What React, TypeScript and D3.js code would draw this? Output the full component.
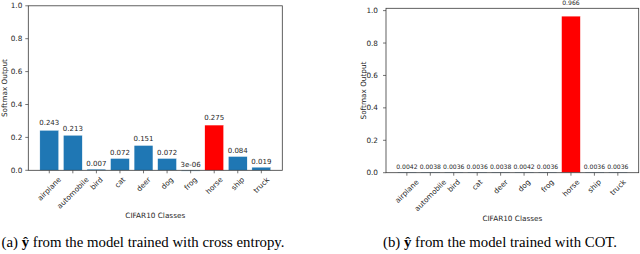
import React, { useEffect, useRef } from "react";
import * as d3 from "d3";

// CIFAR10 classes and softmax outputs
const classes = [
  "airplane",
  "automobile",
  "bird",
  "cat",
  "deer",
  "dog",
  "frog",
  "horse",
  "ship",
  "truck",
];
const crossEntropyValues = [0.243, 0.213, 0.007, 0.072, 0.151, 0.072, 3e-6, 0.275, 0.084, 0.019];
const crossEntropyLabels = ["0.243", "0.213", "0.007", "0.072", "0.151", "0.072", "3e-06", "0.275", "0.084", "0.019"];
const cotValues = [0.0042, 0.0038, 0.0036, 0.0036, 0.0038, 0.0042, 0.0036, 0.966, 0.0036, 0.0036];
const cotLabels = ["0.0042", "0.0038", "0.0036", "0.0036", "0.0038", "0.0042", "0.0036", "0.966", "0.0036", "0.0036"];
const yTicks = [0, 0.2, 0.4, 0.6, 0.8, 1.0];
const trueClass = "horse";

interface PanelSpec {
  left: number;
  right: number;
  top: number;
  bottom: number;
  yMax: number;
  values: number[];
  labels: string[];
  labelSize: number;
  ylabelX: number;
  tickPad: number;
  caption: string;
  captionTag: string;
  captionX: number;
}

const panels: PanelSpec[] = [
  {
    left: 28.3,
    right: 282.3,
    top: 5.8,
    bottom: 170.3,
    yMax: 1.0,
    values: crossEntropyValues,
    labels: crossEntropyLabels,
    labelSize: 7,
    ylabelX: 7.5,
    tickPad: 6,
    caption: " from the model trained with cross entropy.",
    captionTag: "(a) ",
    captionX: 143,
  },
  {
    left: 386,
    right: 638.7,
    top: 8.3,
    bottom: 172.7,
    yMax: 1.0143,
    values: cotValues,
    labels: cotLabels,
    labelSize: 6.1,
    ylabelX: 366,
    tickPad: 8,
    caption: " from the model trained with COT.",
    captionTag: "(b) ",
    captionX: 500,
  },
];

const FONT = "DejaVu Sans";
const TEXT = "#262626";

export default function App() {
  const svgRef = useRef<SVGSVGElement>(null);

  useEffect(() => {
    const root = d3.select(svgRef.current);
    root.selectAll("*").remove();
    root.append("rect").attr("width", 640).attr("height", 254).attr("fill", "white");

    panels.forEach((p) => {
      const g = root.append("g");

      const x = d3
        .scaleLinear()
        .domain([-0.89, classes.length - 1 + 0.89])
        .range([p.left, p.right]);
      const y = d3.scaleLinear().domain([0, p.yMax]).range([p.bottom, p.top]);
      const bw = x(0.8) - x(0);

      // bars
      g.selectAll("rect.bar")
        .data(p.values)
        .join("rect")
        .attr("class", "bar")
        .attr("x", (_, i) => x(i) - bw / 2)
        .attr("width", bw)
        .attr("y", (d) => y(d))
        .attr("height", (d) => Math.max(0.8, y(0) - y(d)))
        .attr("fill", (_, i) => (classes[i] === trueClass ? "#ff0000" : "#1f77b4"))
        .attr("stroke", "white")
        .attr("stroke-width", 0.4);

      // value labels above bars
      g.selectAll("text.val")
        .data(p.values)
        .join("text")
        .attr("class", "val")
        .attr("x", (_, i) => x(i))
        .attr("y", (d) => y(d * 1.05) - 3)
        .attr("text-anchor", "middle")
        .attr("font-family", FONT)
        .attr("font-size", p.labelSize)
        .attr("fill", TEXT)
        .text((_, i) => p.labels[i]);

      // frame
      g.append("rect")
        .attr("x", p.left)
        .attr("y", p.top)
        .attr("width", p.right - p.left)
        .attr("height", p.bottom - p.top)
        .attr("fill", "none")
        .attr("stroke", "#3a3a3a")
        .attr("stroke-width", 0.8);

      // y ticks
      yTicks.forEach((t) => {
        g.append("line")
          .attr("x1", p.left - 3)
          .attr("x2", p.left)
          .attr("y1", y(t))
          .attr("y2", y(t))
          .attr("stroke", "#3a3a3a")
          .attr("stroke-width", 0.7);
        g.append("text")
          .attr("x", p.left - p.tickPad)
          .attr("y", y(t))
          .attr("dy", "0.35em")
          .attr("text-anchor", "end")
          .attr("font-family", FONT)
          .attr("font-size", 7.3)
          .attr("fill", TEXT)
          .text(d3.format(".1f")(t));
      });

      // x ticks with 45-degree labels, centred on tick like matplotlib ha=center
      classes.forEach((c, i) => {
        g.append("line")
          .attr("x1", x(i))
          .attr("x2", x(i))
          .attr("y1", p.bottom)
          .attr("y2", p.bottom + 3)
          .attr("stroke", "#3a3a3a")
          .attr("stroke-width", 0.7);
        const txt = g
          .append("text")
          .attr("text-anchor", "middle")
          .attr("dominant-baseline", "central")
          .attr("font-family", FONT)
          .attr("font-size", 7.3)
          .attr("fill", TEXT)
          .text(c);
        const len = (txt.node() as SVGTextElement).getComputedTextLength();
        const w = (len + 7.3) / Math.SQRT2;
        const cx = x(i);
        const cy = p.bottom + 5.5 + w / 2;
        txt.attr("x", cx).attr("y", cy).attr("transform", `rotate(-45,${cx},${cy})`);
      });

      // axis labels
      g.append("text")
        .attr("x", (p.left + p.right) / 2)
        .attr("y", p.bottom + 48)
        .attr("text-anchor", "middle")
        .attr("font-family", FONT)
        .attr("font-size", 7.3)
        .attr("fill", TEXT)
        .text("CIFAR10 Classes");

      const ym = (p.top + p.bottom) / 2;
      g.append("text")
        .attr("x", p.ylabelX)
        .attr("y", ym)
        .attr("text-anchor", "middle")
        .attr("transform", `rotate(-90,${p.ylabelX},${ym})`)
        .attr("font-family", FONT)
        .attr("font-size", 7.3)
        .attr("fill", TEXT)
        .text("Softmax Output");

      // caption
      const cap = g
        .append("text")
        .attr("x", p.captionX)
        .attr("y", 247)
        .attr("text-anchor", "middle")
        .attr("font-family", "Liberation Serif")
        .attr("font-size", 14.8)
        .attr("fill", "black");
      cap.append("tspan").text(p.captionTag);
      cap.append("tspan").attr("font-weight", "bold").text("\u0177");
      cap.append("tspan").text(p.caption);
    });
  }, []);

  return (
    <svg
      ref={svgRef}
      width={640}
      height={254}
      style={{ position: "absolute", left: 0, top: 0 }}
    ></svg>
  );
}
